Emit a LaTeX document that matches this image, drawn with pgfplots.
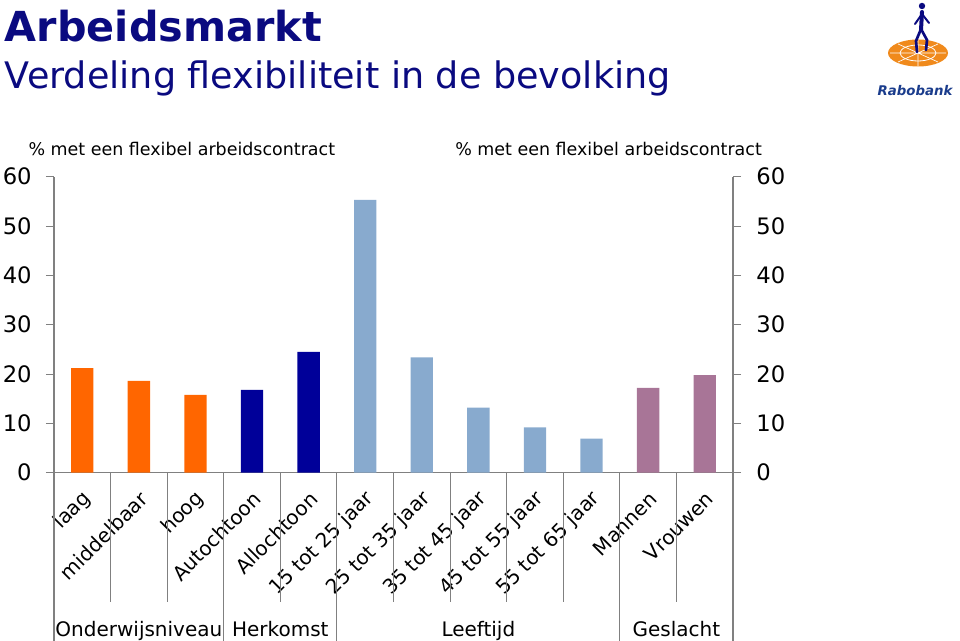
\documentclass[border=0pt]{standalone}
\usepackage{pgfplots}
\pgfplotsset{compat=1.18}
\usepackage{fontspec}
\setmainfont{DejaVu Sans}
\definecolor{titleblue}{HTML}{0A0A80}
\definecolor{barorange}{HTML}{FF6600}
\definecolor{barnavy}{HTML}{000099}
\definecolor{barlight}{HTML}{88AACE}
\definecolor{barmauve}{HTML}{A87597}
\definecolor{axisgray}{HTML}{808080}
\definecolor{logoblue}{HTML}{1A3C8C}
\definecolor{logoorange}{HTML}{F08A1C}
\begin{document}
\begin{tikzpicture}
\useasboundingbox (0,0) rectangle (720pt,480.75pt);
% titles
\node[anchor=base west, inner sep=0, text=titleblue, font=\fontsize{31}{36}\selectfont\bfseries] at (3.5pt,449.5pt) {Arbeidsmarkt};
\node[anchor=base west, inner sep=0, text=titleblue, font=\fontsize{27.4}{32}\selectfont] at (3.5pt,414.5pt) {Verdeling flexibiliteit in de bevolking};
% axis captions
\node[anchor=base west, inner sep=0, font=\fontsize{13.1}{15}\selectfont] at (21.2pt,363.75pt) {\% met een flexibel arbeidscontract};
\node[anchor=base west, inner sep=0, font=\fontsize{13.1}{15}\selectfont] at (341.25pt,363.75pt) {\% met een flexibel arbeidscontract};
% logo
\begin{scope}[x=0.75pt,y=-0.75pt,shift={(0,-641)}]
\fill[logoorange] (918,53) ellipse (30 and 13.5);
\draw[white, line width=0.6pt] (918,53) ellipse (18 and 8);
\draw[white, line width=0.5pt] (890,53) -- (946,53) (918,40) -- (918,66) (898,44) -- (938,62) (898,62) -- (938,44);
\fill[titleblue] (922,6) circle (3.2);
\draw[titleblue, line width=3pt, line cap=round] (922,12) -- (921,30);
\draw[titleblue, line width=2pt, line cap=round] (921,29) -- (916,41) -- (917,52);
\draw[titleblue, line width=2pt, line cap=round] (921,29) -- (927,40) -- (926,50);
\draw[titleblue, line width=1.5pt, line cap=round] (922,14) -- (915,24) (922,14) -- (929,23);
\node[anchor=base, inner sep=0, text=logoblue, font=\fontsize{10}{12}\selectfont\bfseries\itshape] at (915,96) {Rabobank};
\end{scope}
\begin{axis}[
  at={(40.5pt,126.2pt)}, anchor=south west,
  scale only axis, width=509.25pt, height=222pt,
  xmin=-0.5, xmax=11.5, ymin=0, ymax=60,
  axis x line*=bottom, axis y line*=left,
  axis line style={axisgray, line width=0.8pt, -},
  ytick={0,10,...,60},
  ytick align=outside, major tick length=6pt,
  ytick style={axisgray, line width=0.8pt},
  xtick={0,...,11},
  xtick style={draw=none},
  xticklabels={laag,middelbaar,hoog,Autochtoon,Allochtoon,15 tot 25 jaar,25 tot 35 jaar,35 tot 45 jaar,45 tot 55 jaar,55 tot 65 jaar,Mannen,Vrouwen},
  xticklabel style={font=\fontsize{15}{17}\selectfont, inner sep=0pt, anchor=east, xshift=4pt, yshift=-11pt, rotate=45},
  yticklabel style={font=\fontsize{17}{19}\selectfont, xshift=-7.25pt},
  /pgf/number format/assume math mode=true,
  ybar, bar width=16.7pt,
  clip=false,
]
\addplot[fill=barorange, draw=none, bar shift=0pt] coordinates {(0,21.2) (1,18.6) (2,15.8)};
\addplot[fill=barnavy, draw=none, bar shift=0pt] coordinates {(3,16.8) (4,24.5)};
\addplot[fill=barlight, draw=none, bar shift=0pt] coordinates {(5,55.3) (6,23.4) (7,13.2) (8,9.2) (9,6.9)};
\addplot[fill=barmauve, draw=none, bar shift=0pt] coordinates {(10,17.2) (11,19.8)};
% separators
\pgfplotsinvokeforeach{-0.5,2.5,4.5,9.5,11.5}{\draw[axisgray, line width=0.8pt] (axis cs:#1,0) -- ([yshift=-126.75pt]axis cs:#1,0);}
\pgfplotsinvokeforeach{0.5,1.5,3.5,5.5,6.5,7.5,8.5,10.5}{\draw[axisgray, line width=0.8pt] (axis cs:#1,0) -- ([yshift=-97pt]axis cs:#1,0);}
% group labels
\node[anchor=base, inner sep=0, font=\fontsize{15}{17}\selectfont] at ([yshift=-122.5pt]axis cs:1,0) {Onderwijsniveau};
\node[anchor=base, inner sep=0, font=\fontsize{15}{17}\selectfont] at ([yshift=-122.5pt]axis cs:3.5,0) {Herkomst};
\node[anchor=base, inner sep=0, font=\fontsize{15}{17}\selectfont] at ([yshift=-122.5pt]axis cs:7,0) {Leeftijd};
\node[anchor=base, inner sep=0, font=\fontsize{15}{17}\selectfont] at ([yshift=-122.5pt]axis cs:10.5,0) {Geslacht};
\end{axis}
\begin{axis}[
  at={(40.5pt,126.2pt)}, anchor=south west,
  scale only axis, width=509.25pt, height=222pt,
  xmin=-0.5, xmax=11.5, ymin=0, ymax=60,
  axis x line=none, axis y line*=right,
  axis line style={axisgray, line width=0.8pt, -},
  ytick={0,10,...,60},
  ytick align=outside, major tick length=6pt,
  ytick style={axisgray, line width=0.8pt},
  yticklabel style={font=\fontsize{17}{19}\selectfont, xshift=8pt},
  /pgf/number format/assume math mode=true,
]
\addplot[draw=none, forget plot] coordinates {(0,0) (11,0)};
\end{axis}
\end{tikzpicture}
\end{document}
